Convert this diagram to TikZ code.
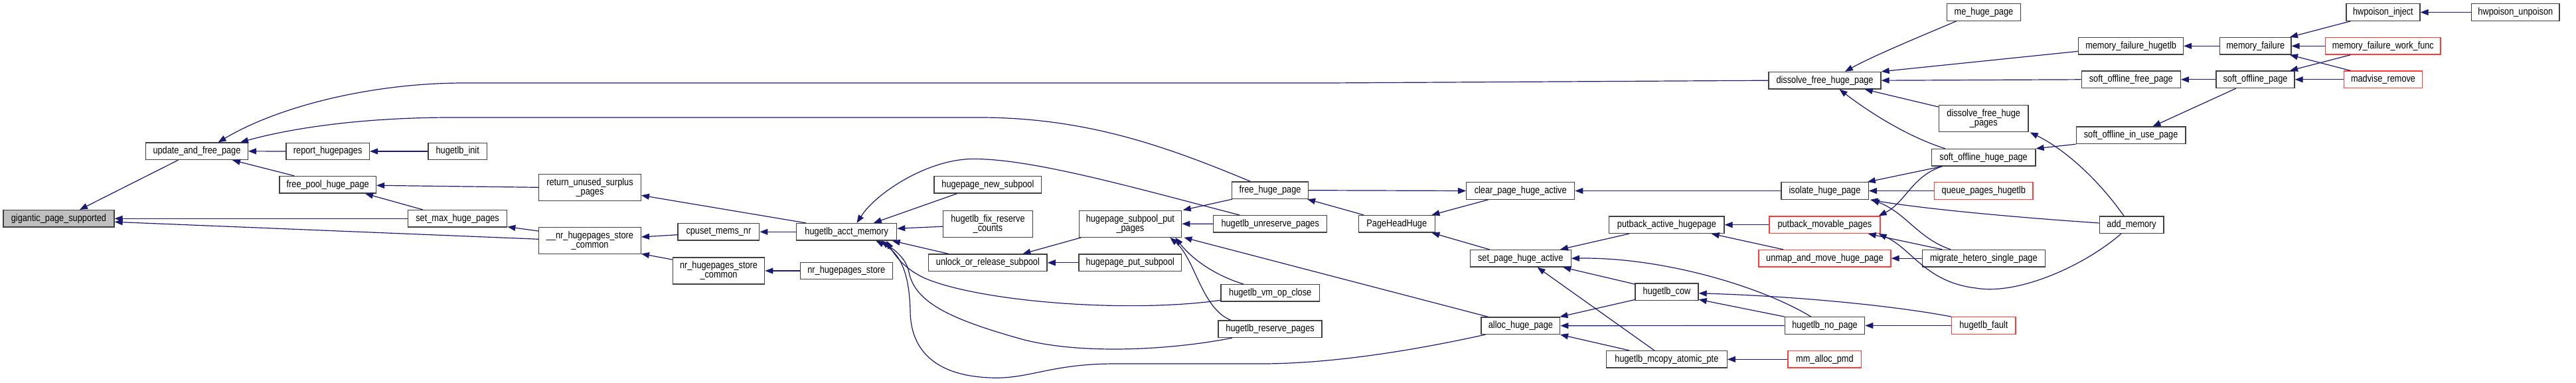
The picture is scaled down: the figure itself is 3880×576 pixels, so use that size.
\documentclass[tikz,border=0pt]{standalone}
\usepackage{fontspec}
\setmainfont{Liberation Sans}[FakeStretch=0.85]
\usetikzlibrary{arrows.meta,calc}
\definecolor{edgecol}{HTML}{191970}
\definecolor{boxcol}{HTML}{404040}
\definecolor{redcol}{HTML}{FF3B3B}
\definecolor{graycol}{HTML}{BFBFBF}
\tikzset{
 fn/.style={draw=boxcol, fill=white, line width=1.3pt, inner sep=0pt, minimum height=25.5pt, font=\fontsize{15}{14}\selectfont, align=center},
 fn2/.style={fn, minimum height=40pt},
 rd/.style={draw=redcol},
 ed/.style={draw=edgecol, line width=1.2pt, -{Triangle[length=12pt,width=9pt]}}
}
\begin{document}
\begin{tikzpicture}[x=1pt,y=-1pt]
\useasboundingbox (0,0) rectangle (3880,576);
% nodes
\node[fn,fill=graycol,minimum width=167] (gps) at (88.5,329.3) {gigantic\_page\_supported};
\node[fn,minimum width=153.6] (ufp) at (296.5,227.8) {update\_and\_free\_page};
\node[fn,minimum width=125.4] (rh) at (493.7,228) {report\_hugepages};
\node[fn,minimum width=88.4] (hi0) at (689.2,228) {hugetlb\_init};
\node[fn,minimum width=145.5] (fphp) at (493.7,278.3) {free\_pool\_huge\_page};
\node[fn,minimum width=149.2] (smhp) at (689.1,329.3) {set\_max\_huge\_pages};
\node[fn2,minimum width=153.6] (rusp) at (888.5,282.3) {return\_unused\_surplus\\\_pages};
\node[fn2,minimum width=153.6] (nhsc) at (888.5,362.7) {\_\_nr\_hugepages\_store\\\_common};
\node[fn,minimum width=122.8] (cmn) at (1082.4,349.3) {cpuset\_mems\_nr};
\node[fn2,minimum width=138.5] (nrsc) at (1082.5,408) {nr\_hugepages\_store\\\_common};
\node[fn,minimum width=150.9] (ham) at (1275.2,349.3) {hugetlb\_acct\_memory};
\node[fn,minimum width=139] (nrs) at (1274.8,408) {nr\_hugepages\_store};
\node[fn,minimum width=161.7] (hnsp) at (1487.9,278.3) {hugepage\_new\_subpool};
\node[fn2,minimum width=134.7] (hfrc) at (1488,337.2) {hugetlb\_fix\_reserve\\\_counts};
\node[fn,minimum width=178.4] (uors) at (1487.9,395.8) {unlock\_or\_release\_subpool};
\node[fn2,minimum width=154.5] (hspp) at (1702.4,337.2) {hugepage\_subpool\_put\\\_pages};
\node[fn,minimum width=154.6] (hps) at (1702.3,395.8) {hugepage\_put\_subpool};
\node[fn,minimum width=115] (fhp) at (1913,286.7) {free\_huge\_page};
\node[fn,minimum width=171] (hup) at (1913.2,337.3) {hugetlb\_unreserve\_pages};
\node[fn,minimum width=148.3] (hvoc) at (1913.2,441.3) {hugetlb\_vm\_op\_close};
\node[fn,minimum width=156] (hrp) at (1913.1,495.7) {hugetlb\_reserve\_pages};
\node[fn,minimum width=162.9] (cpha) at (2290.2,287.5) {clear\_page\_huge\_active};
\node[fn,minimum width=114.9] (phh) at (2103.8,337.3) {PageHeadHuge};
\node[fn,minimum width=151.9] (spha) at (2290.2,389.3) {set\_page\_huge\_active};
\node[fn,minimum width=173.2] (pah) at (2510.4,338.7) {putback\_active\_hugepage};
\node[fn,minimum width=95] (hcow) at (2510.5,439.8) {hugetlb\_cow};
\node[fn,minimum width=118.7] (ahp) at (2290.4,490.7) {alloc\_huge\_page};
\node[fn,minimum width=181.6] (hmap) at (2510.4,541.3) {hugetlb\_mcopy\_atomic\_pte};
\node[fn,minimum width=169] (dfhp) at (2748.5,121.2) {dissolve\_free\_huge\_page};
\node[fn,minimum width=131.3] (ihp) at (2748.5,287.5) {isolate\_huge\_page};
\node[fn,rd,minimum width=167.1] (pmp) at (2748.4,338.7) {putback\_movable\_pages};
\node[fn,rd,minimum width=199.1] (umhp) at (2748.4,389.2) {unmap\_and\_move\_huge\_page};
\node[fn,minimum width=120.3] (hnp) at (2748.5,490.5) {hugetlb\_no\_page};
\node[fn,rd,minimum width=110.7] (map) at (2748.4,541.3) {mm\_alloc\_pmd};
\node[fn,minimum width=110.7] (mhp) at (2987.9,18.5) {me\_huge\_page};
\node[fn2,minimum width=134.7] (dfhps) at (2987.7,178.7) {dissolve\_free\_huge\\\_pages};
\node[fn,minimum width=156.6] (sohp) at (2987.6,237.2) {soft\_offline\_huge\_page};
\node[fn,rd,minimum width=148.6] (qph) at (2987.8,287.5) {queue\_pages\_hugetlb};
\node[fn,minimum width=184.8] (mhsp) at (2987.8,389.2) {migrate\_hetero\_single\_page};
\node[fn,rd,minimum width=96.4] (hf) at (2987.8,490.5) {hugetlb\_fault};
\node[fn,minimum width=157.7] (mfh) at (3209.6,69.3) {memory\_failure\_hugetlb};
\node[fn,minimum width=148.9] (sofp) at (3209.8,119.8) {soft\_offline\_free\_page};
\node[fn,minimum width=164.5] (soiu) at (3209.6,203.8) {soft\_offline\_in\_use\_page};
\node[fn,minimum width=96.6] (am) at (3210.6,338.7) {add\_memory};
\node[fn,minimum width=107.3] (mf) at (3397.2,69.3) {memory\_failure};
\node[fn,minimum width=117.9] (sop) at (3397,119.8) {soft\_offline\_page};
\node[fn,minimum width=111.1] (hpi) at (3589.4,18.5) {hwpoison\_inject};
\node[fn,rd,minimum width=173.4] (mfwf) at (3589.3,69.3) {memory\_failure\_work\_func};
\node[fn,rd,minimum width=118.2] (mr) at (3589.5,119.8) {madvise\_remove};
\node[fn,minimum width=132.2] (hpu) at (3788.8,18.5) {hwpoison\_unpoison};
% edges
\draw[ed] ($(ufp.south west)+(49.3,0)$) -- ($(gps.north)+(31.5,0)$);
\draw[ed] (smhp.west) -- (gps.east);
\draw[ed] ($(nhsc.west)+(0,-2.4)$) -- ($(gps.east)+(0,5)$);
\draw[ed] (rh.west) -- (ufp.east);
\draw[ed] ($(fphp.north west)+(23,0)$) -- ($(ufp.south east)+(-24,0)$);
\draw[ed] (dfhp.west) -- (2000,125) -- (700,125) .. controls (560,125) and (420,160) .. ($(ufp.north)+(32,0)$);
\draw[ed] ($(fhp.north west)+(28.6,0)$) .. controls (1760,222) and (1640,178) .. (1480,177) -- (680,177) .. controls (560,177) and (450,190) .. ($(ufp.north east)+(-12,0)$);
\draw[ed] (hi0.west) -- (rh.east);
\draw[ed] (rusp.west) -- ($(fphp.east)+(0,1)$);
\draw[ed] ($(smhp.north west)+(23,0)$) -- ($(fphp.south east)+(-17,0)$);
\draw[ed] ($(nhsc.north west)+(0,6)$) -- ($(smhp.south east)+(0,-1)$);
\draw[ed] ($(ham.north west)+(14.7,0)$) -- ($(rusp.east)+(0,12)$);
\draw[ed] ($(cmn.west)+(0,4.4)$) -- ($(nhsc.east)+(0,-5.7)$);
\draw[ed] ($(nrsc.north west)+(0,3.7)$) -- ($(nhsc.south east)+(0,-1)$);
\draw[ed] (ham.west) -- (cmn.east);
\draw[ed] (nrs.west) -- (nrsc.east);
\draw[ed] ($(hnsp.south west)+(35,0)$) -- ($(ham.north)+(40.6,0)$);
\draw[ed] ($(hup.north west)+(39.8,0)$) .. controls (1720,286) and (1560,240) .. (1469,239.5) .. controls (1400,238) and (1320,290) .. ($(ham.north)+(15.3,0)$);
\draw[ed] ($(hfrc.west)+(0,4)$) -- ($(ham.east)+(0,-5)$);
\draw[ed] ($(uors.north west)+(30.7,0)$) -- ($(ham.south east)+(-7.6,0)$);
\draw[ed] ($(hvoc.west)+(0,11)$) .. controls (1700,472) and (1480,455) .. (1395,420) .. controls (1360,405) and (1345,380) .. ($(ham.south)+(60,0)$);
\draw[ed] ($(hrp.south west)+(21.5,0)$) .. controls (1760,528) and (1620,535) .. (1532,509) .. controls (1430,480) and (1378,455) .. (1369,410) .. controls (1364,385) and (1340,372) .. ($(ham.south)+(52,0)$);
\draw[ed] ($(ahp.south west)+(6.8,0)$) .. controls (2120,530) and (2000,548) .. (1900,548) -- (1680,548) .. controls (1580,548) and (1550,572) .. (1490,569) .. controls (1400,565) and (1372,520) .. (1371,470) .. controls (1370,410) and (1355,380) .. ($(ham.south)+(44,0)$);
\draw[ed] ($(fhp.south west)+(1.2,0)$) -- ($(hspp.north east)+(1.4,0)$);
\draw[ed] (hup.west) -- (hspp.east);
\draw[ed] ($(hvoc.north west)+(34.4,0)$) .. controls (1830,415) and (1795,390) .. ($(hspp.south east)+(-10,0)$);
\draw[ed] ($(hrp.north west)+(19.4,0)$) .. controls (1810,465) and (1800,390) .. ($(hspp.south east)+(-18,0)$);
\draw[ed] ($(ahp.north west)+(11,0)$) -- ($(hspp.south east)+(3,0)$);
\draw[ed] ($(hspp.south west)+(4,0)$) -- ($(uors.north west)+(142.3,0)$);
\draw[ed] (hps.west) -- (uors.east);
\draw[ed] (fhp.east) -- (cpha.west);
\draw[ed] ($(cpha.south west)+(33.3,0)$) -- ($(phh.north east)+(-5.5,0)$);
\draw[ed] (ihp.west) -- (cpha.east);
\draw[ed] ($(spha.north west)+(30,0)$) -- ($(phh.south east)+(-5.5,0)$);
\draw[ed] ($(phh.north west)+(8.4,0)$) -- ($(fhp.south east)+(-2,0)$);
\draw[ed] ($(pah.south west)+(30.7,0)$) -- ($(spha.north east)+(-17,0)$);
\draw[ed] ($(hnp.north west)+(40,0)$) .. controls (2650,430) and (2500,387) .. (spha.east);
\draw[ed] ($(hcow.north west)+(0,1.7)$) -- ($(spha.south east)+(-12.6,0)$);
\draw[ed] ($(hmap.north west)+(72.8,0)$) -- ($(spha.south)+(25.4,0)$);
\draw[ed] ($(hcow.south west)+(0,-1.7)$) -- ($(ahp.north east)+(-1,0)$);
\draw[ed] (hnp.west) -- (ahp.east);
\draw[ed] ($(hmap.north west)+(35,0)$) -- ($(ahp.south east)+(-0.4,0)$);
\draw[ed] (hnp.north west) -- ($(hcow.south east)+(0,-2)$);
\draw[ed] (hf.north west) .. controls (2850,460) and (2700,446) .. ($(hcow.east)+(0,2)$);
\draw[ed] (hf.west) -- (hnp.east);
\draw[ed] (map.west) -- (hmap.east);
\draw[ed] ($(sohp.south west)+(16.8,0)$) -- ($(ihp.north east)+(-2,0)$);
\draw[ed] (qph.west) -- (ihp.east);
\draw[ed] ($(am.west)+(0,-2.7)$) .. controls (3000,325) and (2880,312) .. ($(ihp.south east)+(2,0)$);
\draw[ed] ($(mhsp.north west)+(43.4,0)$) .. controls (2890,360) and (2870,320) .. ($(ihp.south east)+(4,0)$);
\draw[ed] ($(sohp.south west)+(16.8,0)$) .. controls (2880,265) and (2870,305) .. ($(pmp.north east)+(-3,0)$);
\draw[ed] (pmp.west) -- (pah.east);
\draw[ed] ($(umhp.north west)+(37.5,0)$) -- ($(pah.south east)+(-20,0)$);
\draw[ed] (mhsp.west) -- (umhp.east);
\draw[ed] ($(mhsp.north west)+(30.6,0)$) -- ($(pmp.south east)+(-19,0)$);
\draw[ed] ($(am.south west)+(33.2,0)$) .. controls (3140,400) and (3040,445) .. (2976,434) .. controls (2900,425) and (2880,375) .. ($(pmp.south east)+(-3,0)$);
\draw[ed] ($(am.north west)+(37.4,0)$) .. controls (3160,270) and (3110,225) .. ($(dfhps.south east)+(2,0)$);
\draw[ed] ($(mhp.south west)+(14.7,0)$) .. controls (2880,60) and (2820,85) .. ($(dfhp.north)+(30.4,0)$);
\draw[ed] ($(mfh.west)+(0,8)$) -- (dfhp.north east);
\draw[ed] (sofp.west) -- (dfhp.east);
\draw[ed] ($(dfhps.north west)+(0,3)$) -- ($(dfhp.south east)+(-25,0)$);
\draw[ed] ($(sohp.north west)+(21,0)$) .. controls (2870,205) and (2810,165) .. ($(dfhp.south)+(22,0)$);
\draw[ed] (soiu.south west) -- (sohp.north east);
\draw[ed] (mf.west) -- (mfh.east);
\draw[ed] (sop.west) -- (sofp.east);
\draw[ed] ($(sop.south west)+(30.4,0)$) -- ($(soiu.north east)+(-50,0)$);
\draw[ed] ($(hpi.south west)+(7.2,0)$) -- ($(mf.north east)+(-2.5,0)$);
\draw[ed] (mfwf.west) -- (mf.east);
\draw[ed] ($(mr.north west)+(10.6,0)$) -- ($(mf.south east)+(-2.5,0)$);
\draw[ed] ($(mfwf.south west)+(38.4,0)$) -- ($(sop.north east)+(-7.6,0)$);
\draw[ed] (mr.west) -- (sop.east);
\draw[ed] (hpu.west) -- (hpi.east);
\end{tikzpicture}
\end{document}
